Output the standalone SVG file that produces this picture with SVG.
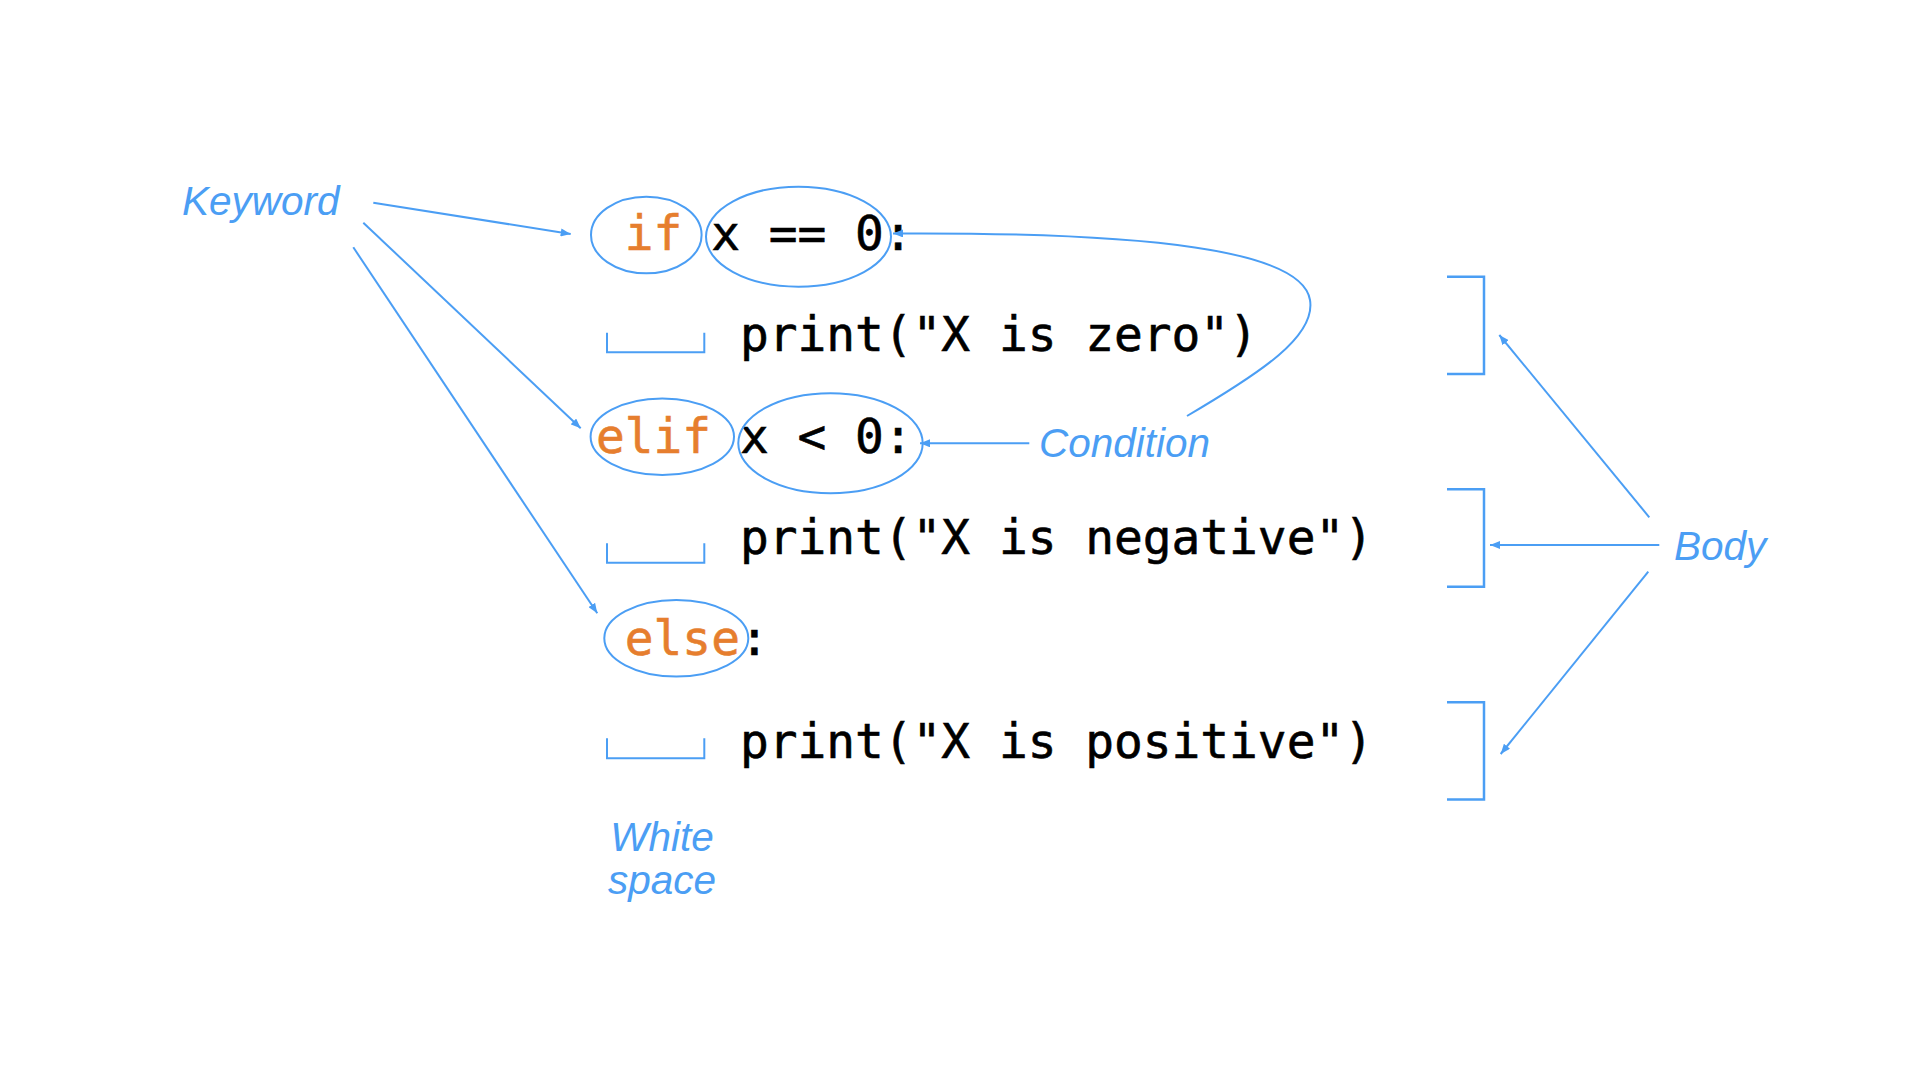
<svg xmlns="http://www.w3.org/2000/svg" width="1920" height="1080" viewBox="0 0 1920 1080">
  <defs>
    <marker id="arrow" viewBox="0 0 10 8" refX="10" refY="4" markerWidth="10" markerHeight="8" markerUnits="userSpaceOnUse" orient="auto">
      <path d="M0,0 L10,4 L0,8 z" fill="#4B9EF4"/>
    </marker>
    <style>
      .code { font-family: "DejaVu Sans Mono", "Liberation Mono", monospace; font-size: 47.8px; fill: #000000; stroke: #000000; stroke-width: 0.6px; }
      .kw { fill: #E67E2E; stroke: #E67E2E; }
      .label { font-family: "Liberation Sans", Arial, sans-serif; font-size: 40.5px; font-style: italic; fill: #4B9EF4; }
      .mark { fill: none; stroke: #4B9EF4; stroke-width: 2; }
      .bracket { fill: none; stroke: #4B9EF4; stroke-width: 2.5; }
      .conn { fill: none; stroke: #4B9EF4; stroke-width: 2; marker-end: url(#arrow); }
    </style>
  </defs>
  <rect width="1920" height="1080" fill="#ffffff"/>

  <g id="code">
    <g id="line-if">
      <text class="code" x="624.8" y="250"><tspan class="kw">if</tspan> x == 0:</text>
      <ellipse class="mark" cx="646.3" cy="235" rx="55.3" ry="38.3"/>
      <ellipse class="mark" cx="798.5" cy="236.7" rx="92.5" ry="50"/>
    </g>
    <g id="line-print-zero">
      <path class="mark" d="M607,332.7 V352.3 H704.3 V332.7"/>
      <text class="code" x="739.9" y="351">print("X is zero")</text>
    </g>
    <g id="line-elif">
      <text class="code" x="596" y="453"><tspan class="kw">elif</tspan> x &lt; 0:</text>
      <ellipse class="mark" cx="662.3" cy="436.7" rx="71.7" ry="38.3"/>
      <ellipse class="mark" cx="830.5" cy="443.3" rx="92.2" ry="50"/>
    </g>
    <g id="line-print-negative">
      <path class="mark" d="M607,543.3 V562.7 H704.3 V543.3"/>
      <text class="code" x="739.9" y="554">print("X is negative")</text>
    </g>
    <g id="line-else">
      <text class="code" x="624.8" y="655"><tspan class="kw">else</tspan>:</text>
      <ellipse class="mark" cx="676.3" cy="638.3" rx="72" ry="38.3"/>
    </g>
    <g id="line-print-positive">
      <path class="mark" d="M607,738.3 V758.3 H704.3 V738.3"/>
      <text class="code" x="739.9" y="758">print("X is positive")</text>
    </g>
  </g>

  <g id="body-brackets">
    <path class="bracket" d="M1447,276.7 H1484 V374 H1447"/>
    <path class="bracket" d="M1447,489.3 H1484 V586.7 H1447"/>
    <path class="bracket" d="M1447,702.3 H1484 V799.6 H1447"/>
  </g>

  <g id="label-keyword">
    <text class="label" x="182" y="215">Keyword</text>
  </g>
  <g id="label-condition">
    <text class="label" x="1039" y="457">Condition</text>
  </g>
  <g id="label-body">
    <text class="label" x="1674" y="560">Body</text>
  </g>
  <g id="label-whitespace">
    <text class="label" x="662" y="851" text-anchor="middle">White</text>
    <text class="label" x="662" y="894" text-anchor="middle">space</text>
  </g>

  <g id="connectors">
    <line class="conn" x1="373.3" y1="202.7" x2="570.7" y2="234"/>
    <line class="conn" x1="363.3" y1="222.7" x2="580.7" y2="428.3"/>
    <line class="conn" x1="353.3" y1="247.3" x2="597.3" y2="613.3"/>
    <line class="conn" x1="1029.3" y1="443.3" x2="920" y2="443.3"/>
    <path class="conn" d="M1187,416 C1262,372 1316,336 1310,300 C1302,250 1150,232 893,233.5"/>
    <line class="conn" x1="1649.3" y1="517.3" x2="1499.3" y2="335"/>
    <line class="conn" x1="1659.3" y1="545" x2="1490" y2="545"/>
    <line class="conn" x1="1648.3" y1="571.7" x2="1500.7" y2="754"/>
  </g>
</svg>
